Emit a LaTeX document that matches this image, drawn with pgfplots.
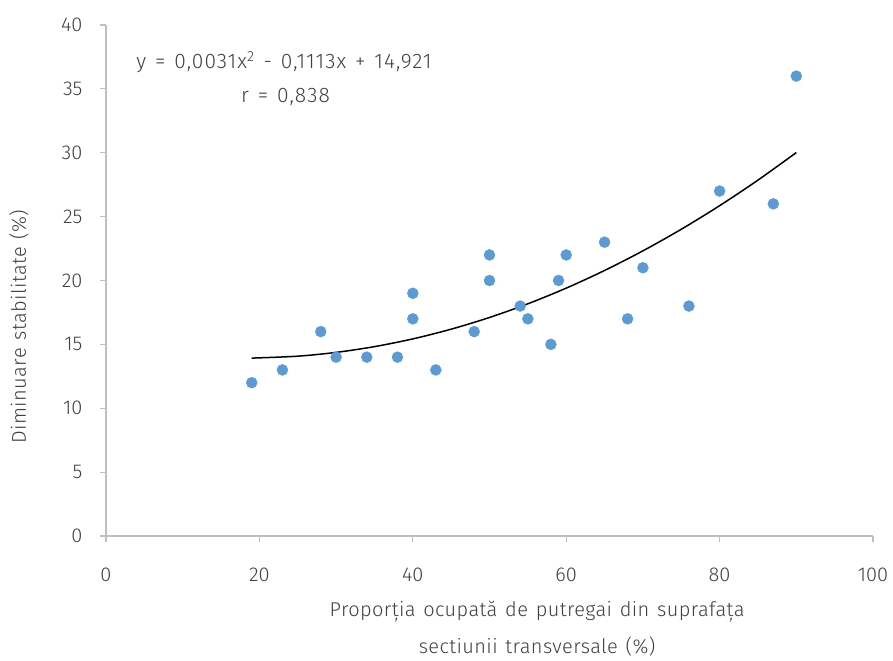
\documentclass[border=0pt]{standalone}
\usepackage{pgfplots}
\pgfplotsset{compat=1.18}
\usepackage{fontspec}
\setmainfont{Fira Sans}[UprightFont={* Light}, WordSpace=1.3]
\definecolor{dotblue}{HTML}{5B9BD5}
\definecolor{axisgray}{HTML}{BFBFBF}
\definecolor{txt}{HTML}{404040}
\newcommand{\chartfont}{\fontsize{20}{24}\selectfont}
\newcommand{\eqfont}{\fontsize{21}{25}\selectfont\addfontfeatures{LetterSpace=5}}
\begin{document}
\begin{tikzpicture}
\begin{axis}[
  scale only axis,
  width=767pt, height=511pt,
  xmin=0, xmax=100, ymin=0, ymax=40,
  xtick={0,20,...,100}, ytick={0,5,...,40},
  axis x line*=bottom, axis y line*=left,
  axis line style={axisgray, line width=1.2pt},
  tick style={axisgray, line width=1.2pt},
  tick align=outside, major tick length=6pt,
  /pgf/number format/assume math mode=true,
  tick label style={font=\chartfont, text=txt},
  xticklabel style={yshift=-22pt},
  yticklabel style={xshift=-14pt},
  xlabel={Proporția ocupată de putregai din suprafața\\[13pt]sectiunii transversale (\%)},
  xlabel style={font=\chartfont\addfontfeatures{LetterSpace=2}, text=txt, align=center, at={(rel axis cs:0.562,0)}, anchor=north, yshift=-62pt},
  ylabel={Diminuare stabilitate (\%)},
  ylabel style={font=\chartfont\addfontfeatures{LetterSpace=2}, text=txt, at={(rel axis cs:0,0.41)}, anchor=base, yshift=80pt},
  clip=false,
]
% measured points
\addplot[only marks, mark=*, mark size=5.5pt, mark options={fill=dotblue, draw=dotblue}] coordinates {
  (19,12) (23,13) (28,16) (30,14) (34,14) (38,14) (40,19) (40,17)
  (43,13) (48,16) (50,22) (50,20) (54,18) (55,17) (58,15) (59,20)
  (60,22) (65,23) (68,17) (70,21) (76,18) (80,27) (87,26) (90,36)
};
% second-order trend line, sampled values
\addplot[black, line width=1.5pt, smooth] coordinates {
  (19,13.925) (25,14.076) (30,14.372) (35,14.823) (40,15.429)
  (45,16.190) (50,17.106) (55,18.177) (60,19.403) (65,20.784)
  (70,22.320) (75,24.011) (80,25.857) (85,27.858) (90,30.014)
};
\node[font=\eqfont, text=txt, inner sep=0pt] at (axis cs:23.2,37.1)
  {y = 0,0031x\textsuperscript{2} - 0,1113x + 14,921};
\node[font=\eqfont, text=txt, inner sep=0pt] at (axis cs:23.4,34.4)
  {r = 0,838};
\end{axis}
% outer margins of the figure
\path ([xshift=-106pt,yshift=25pt]current axis.north west) ([xshift=20pt]current axis.south east);
\end{tikzpicture}
\end{document}
